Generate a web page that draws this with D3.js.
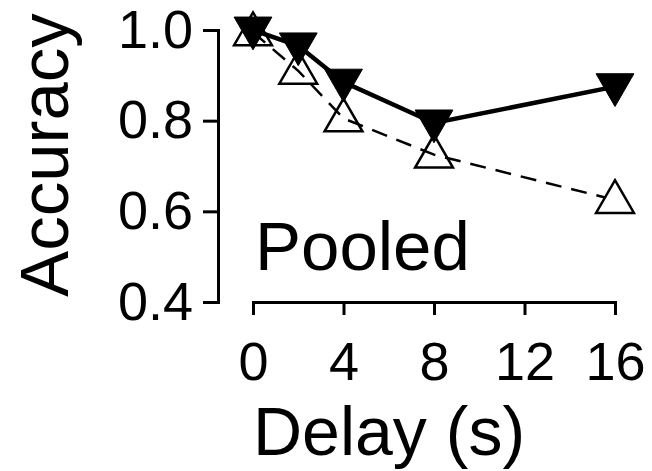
<!DOCTYPE html>
<html>
<head>
<meta charset="utf-8">
<script src="https://cdn.jsdelivr.net/npm/d3@7"></script>
<style>
  body { margin: 0; background: #fff; }
  svg { display: block; font-family: "Liberation Sans", Arial, Helvetica, sans-serif; }
</style>
</head>
<body>
<div id="chart"></div>
<script>
// delays in seconds
const delays = [0, 2, 4, 8, 16];
// filled (down) triangles, solid line
const solidVals = [1.0, 0.965, 0.885, 0.795, 0.875];
// open (up) triangles, dashed line
const openVals = [0.995, 0.91, 0.805, 0.725, 0.625];
const xTicks = [0, 4, 8, 12, 16];
const yTicks = [0.4, 0.6, 0.8, 1.0];

let width = 652, height = 471;

let svg = d3.select("#chart").append("svg")
  .attr("width", width)
  .attr("height", height);

let x = d3.scaleLinear().domain([0, 16]).range([253, 615]);
let y = d3.scaleLinear().domain([0.4, 1.0]).range([302, 30]);

// y axis
let yAxis = svg.append("g")
  .attr("transform", "translate(218,0)")
  .call(d3.axisLeft(y).tickValues(yTicks).tickFormat(d3.format(".1f"))
    .tickSize(15).tickSizeOuter(15).tickPadding(10));

// x axis
let xAxis = svg.append("g")
  .attr("transform", "translate(0,302)")
  .call(d3.axisBottom(x).tickValues(xTicks).tickFormat(d3.format("d"))
    .tickSize(13).tickSizeOuter(13).tickPadding(27));

[yAxis, xAxis].forEach(function(g) {
  g.select(".domain").attr("stroke", "#000").attr("stroke-width", 3).attr("fill", "none");
  g.selectAll(".tick line").attr("stroke", "#000").attr("stroke-width", 3);
  g.selectAll(".tick text")
    .attr("fill", "#000")
    .style("font-size", "54px")
    .style("font-family", "'Liberation Sans', Arial, Helvetica, sans-serif");
});

// lines
let lineSolid = d3.line()
  .x(function(d, i) { return x(delays[i]); })
  .y(function(d) { return y(d); });

svg.append("path")
  .datum(openVals)
  .attr("fill", "none")
  .attr("stroke", "#000")
  .attr("stroke-width", 2.5)
  .attr("stroke-dasharray", "16,10")
  .attr("d", lineSolid);

svg.append("path")
  .datum(solidVals)
  .attr("fill", "none")
  .attr("stroke", "#000")
  .attr("stroke-width", 4.5)
  .attr("d", lineSolid);

let tri = d3.symbol().type(d3.symbolTriangle).size(620);

svg.selectAll(".solidTri")
  .data(solidVals)
  .enter().append("path")
  .attr("class", "solidTri")
  .attr("d", tri)
  .attr("transform", function(d, i) { return "translate(" + x(delays[i]) + "," + (y(d) - 2) + ") rotate(180)"; })
  .attr("fill", "#000")
  .attr("stroke", "#000")
  .attr("stroke-width", 1);

// open markers drawn over filled ones only where the reference shows it (first point)
svg.selectAll(".openTri")
  .data(openVals)
  .enter().append("path")
  .attr("class", "openTri")
  .attr("d", tri)
  .attr("transform", function(d, i) { return "translate(" + x(delays[i]) + "," + (y(d) + 2) + ")"; })
  .attr("fill", "#fff")
  .attr("stroke", "#000")
  .attr("stroke-width", 2.5)
  .lower();

svg.selectAll(".openTri").filter(function(d, i) { return i === 0; }).raise();

// labels
svg.append("text")
  .attr("x", 255)
  .attr("y", 270)
  .style("font-size", "69px")
  .text("Pooled");

svg.append("text")
  .attr("x", 253)
  .attr("y", 455)
  .style("font-size", "68px")
  .text("Delay (s)");

svg.append("text")
  .attr("transform", "translate(68,155) rotate(-90)")
  .attr("text-anchor", "middle")
  .style("font-size", "69px")
  .text("Accuracy");
</script>
</body>
</html>
